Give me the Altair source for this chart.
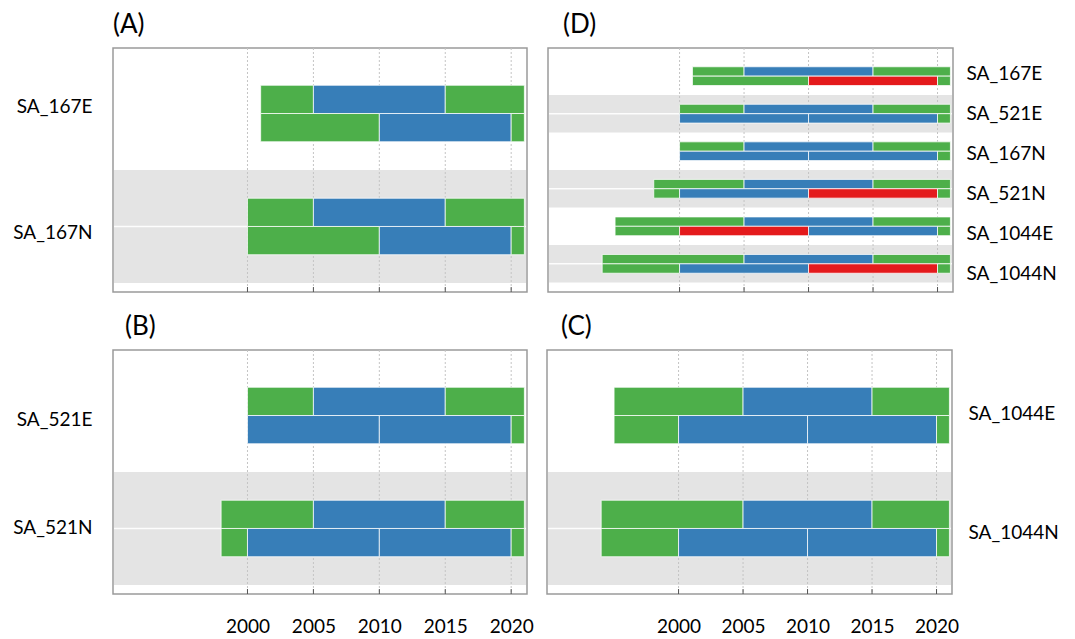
import altair as alt
import pandas as pd

GREEN, BLUE, RED = "#4daf4a", "#377eb8", "#e41a1c"
BAND = "#e4e4e4"
FONT = "Lato"

years = [2000, 2005, 2010, 2015, 2020]
x_domain = [1989.8, 2021.2]
state_codes = ["G", "B", "R"]
state_colors = [GREEN, BLUE, RED]

# station: (upper-row breakpoints, upper-row states, lower-row breakpoints, lower-row states)
panel_A = {
    "SA_167E": ([2001, 2005, 2015, 2021], "GBG", [2001, 2010, 2020, 2021], "GBG"),
    "SA_167N": ([2000, 2005, 2015, 2021], "GBG", [2000, 2010, 2020, 2021], "GBG"),
}
panel_B = {
    "SA_521E": ([2000, 2005, 2015, 2021], "GBG", [2000, 2010, 2020, 2021], "BBG"),
    "SA_521N": ([1998, 2005, 2015, 2021], "GBG", [1998, 2000, 2010, 2020, 2021], "GBBG"),
}
panel_C = {
    "SA_1044E": ([1995, 2005, 2015, 2021], "GBG", [1995, 2000, 2010, 2020, 2021], "GBBG"),
    "SA_1044N": ([1994, 2005, 2015, 2021], "GBG", [1994, 2000, 2010, 2020, 2021], "GBBG"),
}
panel_D = {
    "SA_167E": ([2001, 2005, 2015, 2021], "GBG", [2001, 2010, 2020, 2021], "GRG"),
    "SA_521E": ([2000, 2005, 2015, 2021], "GBG", [2000, 2010, 2020, 2021], "BBG"),
    "SA_167N": ([2000, 2005, 2015, 2021], "GBG", [2000, 2010, 2020, 2021], "BBG"),
    "SA_521N": ([1998, 2005, 2015, 2021], "GBG", [1998, 2000, 2010, 2020, 2021], "GBRG"),
    "SA_1044E": ([1995, 2005, 2015, 2021], "GBG", [1995, 2000, 2010, 2020, 2021], "GRBG"),
    "SA_1044N": ([1994, 2005, 2015, 2021], "GBG", [1994, 2000, 2010, 2020, 2021], "GBRG"),
}

HEIGHT = 244


def segments(panel):
    rows = []
    for st, (b1, s1, b2, s2) in panel.items():
        for row, br, ss in (("upper", b1, s1), ("lower", b2, s2)):
            for i, s in enumerate(ss):
                rows.append({"station": st, "row": row, "start": br[i],
                             "end": br[i + 1], "state": s})
    return pd.DataFrame(rows)


def panel(data, title, title_dx, width, orient, show_x, outer, label_pad, off_a, off_b):
    stations = list(data)
    df = segments(data)
    bands = pd.DataFrame({"station": stations[1::2]})
    mids = pd.DataFrame({"station": stations})
    grid = pd.DataFrame({"year": years})

    arr = "[" + ",".join("'%s'" % s for s in stations) + "]"
    yaxis = alt.Axis(orient=orient, title=None, ticks=False, domain=False,
                     labelPadding=label_pad, labelFont=FONT, labelFontSize=19,
                     labelColor="black", grid=False,
                     labelOffset=alt.ExprRef("%g + %g * indexof(%s, datum.value)" % (off_a, off_b, arr)))
    yscale = alt.Scale(domain=stations, paddingInner=0, paddingOuter=outer)
    Y = alt.Y("station:N", scale=yscale, axis=yaxis)
    xscale = alt.Scale(domain=x_domain, nice=False, zero=False)
    if show_x:
        xaxis = alt.Axis(values=years, format="d", title=None, ticks=False, domain=False,
                         grid=False, labelFont=FONT, labelFontSize=19, labelColor="black",
                         labelPadding=23, labelFlush=False)
    else:
        xaxis = None

    band = alt.Chart(bands).mark_rect(color=BAND).encode(
        y=Y, x=alt.value(1), x2=alt.value(width - 1))
    mid = alt.Chart(mids).mark_rule(color="white", strokeWidth=1.5, opacity=0.9).encode(
        y=Y, x=alt.value(1), x2=alt.value(width - 1))
    gridl = alt.Chart(grid).mark_rule(color="#c4c4c4", strokeDash=[2, 2], strokeWidth=1).encode(
        x=alt.X("year:Q", scale=xscale, axis=xaxis))
    ticks = alt.Chart(grid).mark_rule(color="#555555", strokeWidth=1).encode(
        x=alt.X("year:Q", scale=xscale, axis=xaxis),
        y=alt.value(HEIGHT - 5), y2=alt.value(HEIGHT))
    bars = alt.Chart(df).mark_bar(stroke="white", strokeWidth=1, strokeOpacity=0.75).encode(
        y=Y,
        yOffset=alt.YOffset("row:N", scale=alt.Scale(domain=["upper", "lower"],
                                                     paddingInner=0, paddingOuter=1)),
        x=alt.X("start:Q", scale=xscale, axis=xaxis),
        x2="end:Q",
        color=alt.Color("state:N", scale=alt.Scale(domain=state_codes, range=state_colors),
                        legend=None),
    )
    return alt.layer(band, mid, gridl, ticks, bars).properties(
        width=width, height=HEIGHT,
        title=alt.TitleParams(text=title, anchor="start", frame="group", dx=title_dx,
                              offset=10, font=FONT, fontSize=26, fontWeight="normal",
                              color="black"),
    )


A = panel(panel_A, "(A)", 0, 414, "left", False, 0.08, 21, -7, 13.5)
B = panel(panel_B, "(B)", 12, 414, "left", True, 0.08, 21, 4.5, -4.5)
C = panel(panel_C, "(C)", 14, 405, "right", True, 0.08, 16, -1.5, 6.5)
D = panel(panel_D, "(D)", 15, 405, "right", False, 0.25, 13, -2.5, 2.5)

res = dict(x="independent", y="independent", yOffset="independent")
top = alt.hconcat(A, D, spacing=19).resolve_scale(**res)
bottom = alt.hconcat(B, C, spacing=12).resolve_scale(**res)
chart = alt.vconcat(top, bottom, spacing=18).resolve_scale(**res).properties(
    padding={"left": 4, "top": 2, "right": 0, "bottom": 0}
).configure_view(stroke="#9a9a9a", strokeWidth=1.5)

chart.save("out.html", embed_options={"renderer": "svg", "actions": False})
